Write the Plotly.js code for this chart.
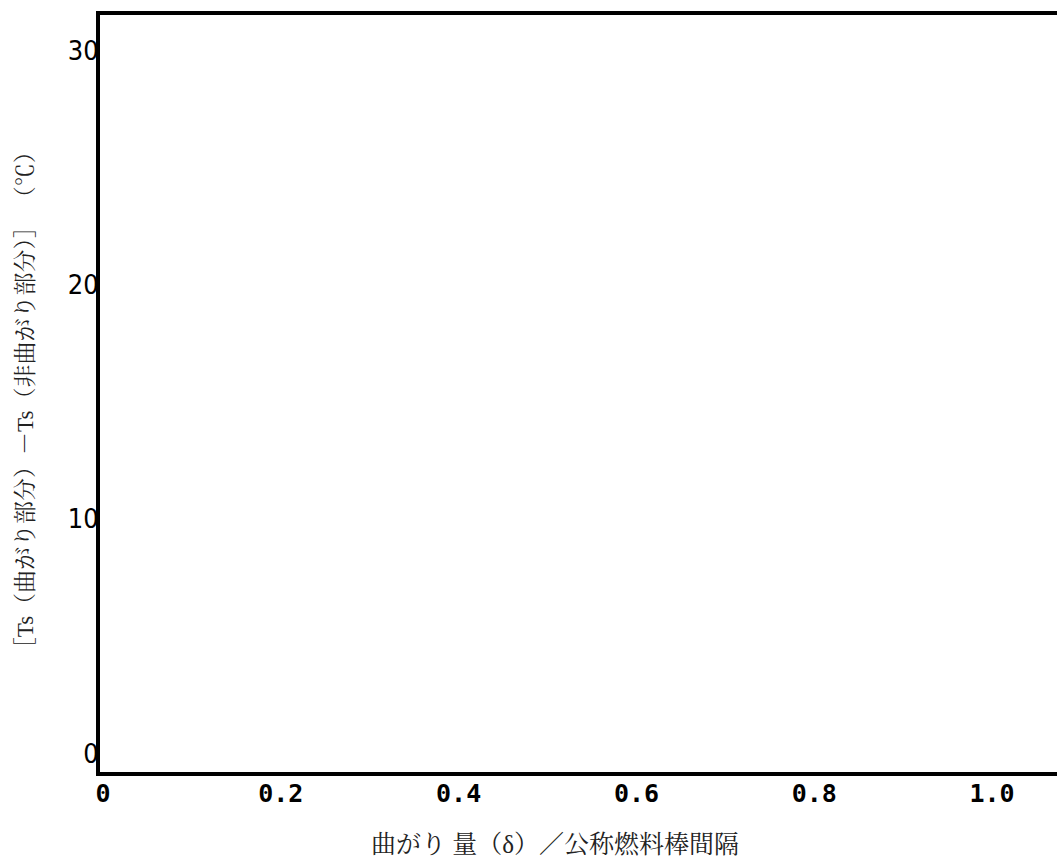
<!DOCTYPE html>
<html>
<head>
<meta charset="utf-8">
<script src="https://cdn.plot.ly/plotly-3.0.1.min.js"></script>
<style>html,body{margin:0;padding:0;background:#fff;}#chart{width:1057px;height:865px;}</style>
</head>
<body>
<div id="chart"></div>
<script>
// Data (the reference chart has no plotted series; only axes)
const seriesX = [];
const seriesY = [];
const xTickVals = [0, 0.2, 0.4, 0.6, 0.8, 1.0];
const xTickText = ['0', '0.2', '0.4', '0.6', '0.8', '1.0'];
const yTickVals = [0, 10, 20, 30];
const yTickText = ['0', '10', '20', '30'];
const xTitle = '曲がり 量（δ）／公称燃料棒間隔';
const yTitle = '［Ts（曲がり部分）－Ts（非曲がり部分）］ （℃）';

const titleFont = {family: 'Liberation Serif, "Noto Serif CJK JP", "Noto Sans CJK JP", serif', size: 25, color: '#222'};

const data = [{x: seriesX, y: seriesY, type: 'scatter', mode: 'lines', showlegend: false}];

const layout = {
  width: 1057, height: 865,
  margin: {l: 100, r: 0, t: 15, b: 93, pad: 0},
  paper_bgcolor: '#fff', plot_bgcolor: '#fff',
  showlegend: false,
  xaxis: {
    range: [-0.0034, 1.073],
    tickvals: xTickVals, ticktext: xTickText,
    showgrid: false, zeroline: false,
    showline: true, linecolor: '#000', linewidth: 4, mirror: true,
    ticks: '', ticklabelstandoff: -4,
    tickfont: {family: '"DejaVu Sans Mono", "Liberation Mono", monospace', size: 25, color: '#000', weight: 'bold'}
  },
  yaxis: {
    range: [-0.81, 31.54],
    tickvals: yTickVals, ticktext: yTickText,
    showgrid: false, zeroline: false,
    showline: true, linecolor: '#000', linewidth: 4, mirror: false,
    ticks: '', ticklabelstandoff: -8,
    tickfont: {family: '"Liberation Sans Narrow", "DejaVu Sans Condensed", sans-serif', size: 27, color: '#000'}
  },
  annotations: [
    {text: xTitle, xref: 'paper', yref: 'paper', x: 0.4754, y: -0.0964,
     xanchor: 'center', yanchor: 'middle', showarrow: false, font: titleFont},
    {text: yTitle, xref: 'paper', yref: 'paper', x: -0.0784, y: 0.491, textangle: -90,
     xanchor: 'center', yanchor: 'middle', showarrow: false, font: Object.assign({}, titleFont, {size: 23})}
  ]
};

Plotly.newPlot('chart', data, layout, {displayModeBar: false, staticPlot: true});
</script>
</body>
</html>
